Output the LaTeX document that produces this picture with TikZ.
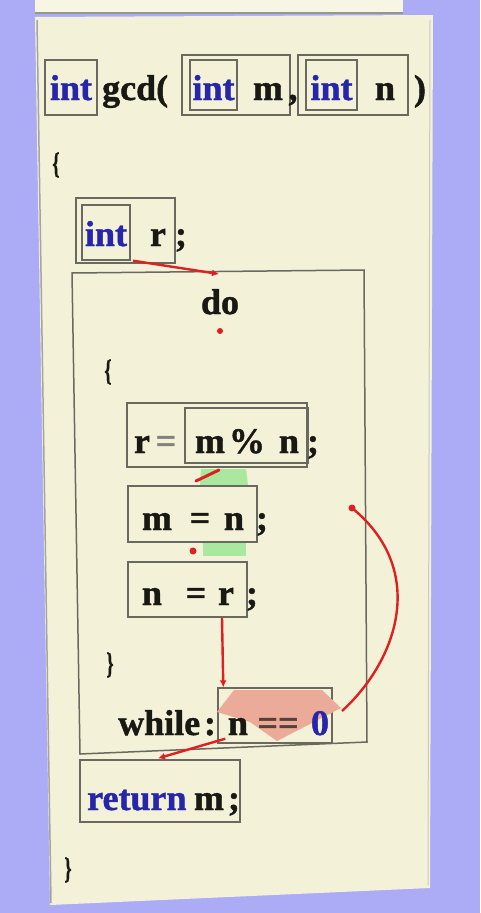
\documentclass[tikz,border=0pt]{standalone}
\usepackage{fontspec}
\setmainfont{Liberation Serif}[BoldFont={Liberation Serif Bold}, BoldFeatures={FakeBold=1.2}]
\usetikzlibrary{arrows.meta}

\definecolor{bgblue}{RGB}{172,172,246}
\definecolor{panel}{RGB}{243,241,216}
\definecolor{panelhi}{RGB}{247,246,228}
\definecolor{frame}{RGB}{105,105,95}
\definecolor{ink}{RGB}{25,25,20}
\definecolor{kw}{RGB}{38,38,170}
\definecolor{flow}{RGB}{222,32,32}
\definecolor{cond}{RGB}{236,170,152}
\definecolor{seqgreen}{RGB}{170,232,160}

\begin{document}
\begin{tikzpicture}[x=1pt,y=-1pt,
  code/.style={font=\fontsize{36}{40}\selectfont\bfseries, inner sep=0pt, anchor=base, text=ink},
  kwd/.style={code, text=kw},
  faint/.style={code, text=ink!55},
  brace/.style={inner sep=0pt, text=ink, font=\fontsize{30}{32}\selectfont\bfseries},
  cell/.style={draw=frame, line width=1.4pt, inner sep=0pt},
  flowline/.style={flow, line width=2.4pt, -{Latex[length=7pt,width=7pt]}},
  flowdot/.style={fill=flow, draw=none}
]
% backdrop and the two panels
\fill[bgblue] (0,0) rectangle (480,913);
\useasboundingbox (0,0) rectangle (480,913);
\fill[panelhi] (35,0) rectangle (403,12);
\draw[frame!70, line width=2pt] (35,13) -- (403,13);
\fill[panel] (35,17) -- (433,15) -- (430,888) -- (50,905) -- cycle;
\draw[frame!60, line width=1.5pt] (37,20) -- (51,903);
\draw[frame!35, line width=1pt] (430,20) -- (428,885);

% function header
\node[cell, minimum width=52, minimum height=55] (bint) at (71,87.5) {};
\node[kwd] (tint) at (71,100) {int};
\node[code, anchor=base west] (tgcd) at (102,100) {gcd(};
\node[cell, minimum width=108, minimum height=60] (pm) at (236,85) {};
\node[cell, minimum width=47, minimum height=50] (pmint) at (213.5,85) {};
\node[kwd] (tpmint) at (213.5,100) {int};
\node[code] (tpm) at (268,100) {m};
\node[code] (tcomma) at (293,100) {,};
\node[cell, minimum width=110, minimum height=60] (pn) at (353,85) {};
\node[cell, minimum width=51, minimum height=50] (pnint) at (331.5,85) {};
\node[kwd] (tpnint) at (331.5,100) {int};
\node[code] (tpn) at (385,100) {n};
\node[code] (trp) at (420,100) {)};
\node[brace] (ob1) at (56,165) {\scalebox{0.6}[1]{\{}};

% local declaration
\node[cell, minimum width=99, minimum height=65] (rdecl) at (125.5,230.5) {};
\node[cell, minimum width=48, minimum height=55] (rint) at (106,232.5) {};
\node[kwd] (trint) at (106,246) {int};
\node[code] (tr) at (158,246) {r};
\node[code] (tsemi1) at (181,246) {;};

% do-while block
\coordinate (lp1) at (72,273);
\coordinate (lp2) at (364,270);
\coordinate (lp3) at (367,742);
\coordinate (lp4) at (80,754);
\draw[frame, line width=1.5pt] (lp1) -- (lp2) -- (lp3) -- (lp4) -- cycle;
\coordinate (looptop) at (219,274);
\node[code] (tdo) at (220,314) {do};
\node[brace] (ob2) at (108,372) {\scalebox{0.6}[1]{\{}};

% r = m % n;
\node[cell, minimum width=180, minimum height=64] (mod) at (217,435) {};
\node[cell, minimum width=123, minimum height=55] (modrhs) at (246.5,435.5) {};
\node[code] (tr2) at (142,453) {r};
\node[faint] (teq1) at (166,453) {=};
\node[code] (tm2) at (210,453) {m};
\node[code] (tpc) at (247,453) {\%};
\node[code] (tn2) at (289,453) {n};
\node[code] (tsemi2) at (313,453) {;};

% m = n;
\fill[seqgreen] (201,469) -- (246,469) -- (248,485) -- (200,485) -- cycle;
\node[cell, minimum width=129, minimum height=56] (mn) at (192.5,514) {};
\node[code] (tm3) at (157,530) {m};
\node[code] (teq2) at (200,530) {=};
\node[code] (tn3) at (234,530) {n};
\node[code] (tsemi3) at (262,530) {;};

% n = r;
\fill[seqgreen] (203,543) rectangle (246,556);
\node[cell, minimum width=119, minimum height=55] (nr) at (187.5,589.5) {};
\node[code] (tn4) at (152,605) {n};
\node[code] (teq3) at (196,605) {=};
\node[code] (tr4) at (226,605) {r};
\node[code] (tsemi4) at (252,605) {;};

\node[brace] (cb1) at (110,665) {\scalebox{0.6}[1]{\}}};

% loop condition
\node[cell, minimum width=114, minimum height=55] (wcond) at (275,715.5) {};
\fill[cond] (217,712) -- (234,690) -- (322,690) -- (341,708) -- (277,741) -- (250,722) -- cycle;
\coordinate (condR) at (342,711);
\node[code, anchor=base west] (twhile) at (118,735) {while};
\node[code] (tcolon) at (210,735) {:};
\node[code] (tn5) at (238,735) {n};
\node[code, text=ink!45!cond!60!black] (teqeq) at (278,735) {==};
\node[kwd] (tzero) at (320,735) {0};

% return m;
\node[cell, minimum width=160, minimum height=62] (ret) at (160,791) {};
\node[kwd, anchor=base west] (treturn) at (87,810) {return};
\node[code] (tm6) at (209,810) {m};
\node[code] (tsemi6) at (234,810) {;};
\node[brace] (cb2) at (68,870) {\scalebox{0.6}[1]{\}}};

% control flow
\draw[flowline] ([xshift=7.5pt,yshift=3pt]rdecl.south) -- (looptop);
\fill[flowdot] (220,331) circle (3);
\draw[flow, line width=3pt, line cap=round] (196,481) -- (219,470);
\fill[flowdot] (193,551) circle (3.5);
\draw[flowline] ([xshift=34.5pt]nr.south) -- ([xshift=6pt]wcond.north west);
\coordinate (loopback) at (352,508);
\draw[flow, line width=2.4pt] (condR) .. controls (398,660) and (428,570) .. (loopback);
\fill[flowdot] (loopback) circle (3.5);
\draw[flowline] ([xshift=8pt,yshift=5pt]wcond.south west) -- ([xshift=-2pt,yshift=1pt]ret.north);
\end{tikzpicture}
\end{document}
